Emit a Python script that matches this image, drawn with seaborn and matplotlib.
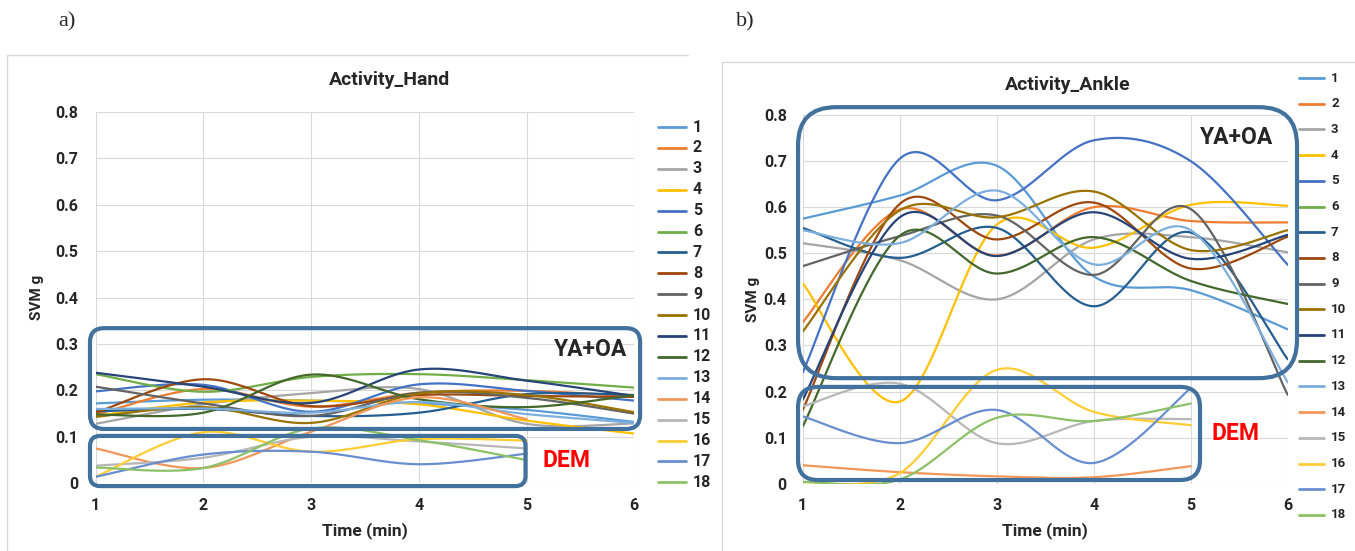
import numpy as np
import pandas as pd
import matplotlib
matplotlib.use("Agg")
import matplotlib.pyplot as plt
import seaborn as sns
from matplotlib.patches import FancyBboxPatch
from matplotlib.lines import Line2D
from matplotlib.transforms import IdentityTransform

# time points (minutes); DEM subjects only have 5 points
time_min = [1, 2, 3, 4, 5, 6]

series_names = [str(i) for i in range(1, 19)]
series_colors = ["#5B9BD5", "#ED7D31", "#A5A5A5", "#FFC000", "#4472C4", "#70AD47",
                 "#255E91", "#9E480E", "#636363", "#997300", "#264478", "#43682B",
                 "#7CAFDD", "#F1975A", "#B7B7B7", "#FFCD33", "#698ED0", "#8CC168"]

# a) Activity_Hand  (1-13 YA+OA, 14-18 DEM)
hand_1 = [0.172, 0.180, 0.178, 0.172, 0.158, 0.132]
hand_2 = [0.148, 0.203, 0.165, 0.195, 0.199, 0.187]
hand_3 = [0.128, 0.170, 0.194, 0.203, 0.128, 0.129]
hand_4 = [0.145, 0.174, 0.178, 0.170, 0.135, 0.107]
hand_5 = [0.198, 0.212, 0.154, 0.213, 0.199, 0.178]
hand_6 = [0.235, 0.197, 0.229, 0.235, 0.222, 0.206]
hand_7 = [0.155, 0.160, 0.145, 0.152, 0.192, 0.190]
hand_8 = [0.152, 0.224, 0.166, 0.190, 0.188, 0.186]
hand_9 = [0.208, 0.172, 0.145, 0.195, 0.184, 0.150]
hand_10 = [0.143, 0.164, 0.130, 0.193, 0.190, 0.153]
hand_11 = [0.238, 0.208, 0.173, 0.245, 0.221, 0.188]
hand_12 = [0.148, 0.152, 0.234, 0.181, 0.164, 0.190]
hand_13 = [0.160, 0.161, 0.152, 0.175, 0.149, 0.130]
hand_14 = [0.075, 0.033, 0.111, 0.185, 0.138]
hand_15 = [0.038, 0.055, 0.100, 0.090, 0.075]
hand_16 = [0.014, 0.110, 0.068, 0.095, 0.092]
hand_17 = [0.014, 0.062, 0.068, 0.041, 0.064]
hand_18 = [0.034, 0.033, 0.118, 0.093, 0.050]

# b) Activity_Ankle  (series 6 has no values)
ankle_1 = [0.575, 0.625, 0.690, 0.450, 0.420, 0.335]
ankle_2 = [0.350, 0.595, 0.495, 0.600, 0.570, 0.567]
ankle_3 = [0.522, 0.485, 0.400, 0.530, 0.535, 0.502]
ankle_4 = [0.435, 0.178, 0.562, 0.512, 0.605, 0.603]
ankle_5 = [0.241, 0.705, 0.615, 0.745, 0.700, 0.475]
ankle_6 = None
ankle_7 = [0.555, 0.490, 0.555, 0.385, 0.545, 0.270]
ankle_8 = [0.160, 0.607, 0.530, 0.610, 0.467, 0.536]
ankle_9 = [0.472, 0.537, 0.582, 0.453, 0.596, 0.193]
ankle_10 = [0.330, 0.593, 0.578, 0.634, 0.507, 0.550]
ankle_11 = [0.182, 0.578, 0.494, 0.589, 0.488, 0.540]
ankle_12 = [0.124, 0.538, 0.456, 0.535, 0.440, 0.390]
ankle_13 = [0.550, 0.522, 0.636, 0.476, 0.550, 0.220]
ankle_14 = [0.040, 0.025, 0.016, 0.014, 0.038]
ankle_15 = [0.168, 0.217, 0.088, 0.136, 0.140]
ankle_16 = [0.003, 0.023, 0.247, 0.156, 0.127]
ankle_17 = [0.146, 0.088, 0.160, 0.045, 0.207]
ankle_18 = [0.004, 0.009, 0.143, 0.136, 0.174]

hand = [hand_1, hand_2, hand_3, hand_4, hand_5, hand_6, hand_7, hand_8, hand_9,
        hand_10, hand_11, hand_12, hand_13, hand_14, hand_15, hand_16, hand_17, hand_18]
ankle = [ankle_1, ankle_2, ankle_3, ankle_4, ankle_5, ankle_6, ankle_7, ankle_8, ankle_9,
         ankle_10, ankle_11, ankle_12, ankle_13, ankle_14, ankle_15, ankle_16, ankle_17, ankle_18]

W, H = 1355, 551
BOX = "#41719C"
GRID = "#D9D9D9"

sns.set_style("white")
plt.rcParams["font.family"] = ["Roboto", "DejaVu Sans"]


def excel_smooth(xs, ys, n=40):
    # bezier smoothing like excel's "smoothed line" option
    pts = np.column_stack([xs, ys]).astype(float)
    out = []
    for i in range(len(pts) - 1):
        p0 = pts[i - 1] if i > 0 else pts[i]
        p1, p2 = pts[i], pts[i + 1]
        p3 = pts[i + 2] if i + 2 < len(pts) else pts[i + 1]
        c1 = p1 + (p2 - p0) / 6
        c2 = p2 - (p3 - p1) / 6
        t = np.linspace(0, 1, n)[:, None]
        seg = (1 - t) ** 3 * p1 + 3 * (1 - t) ** 2 * t * c1 + 3 * (1 - t) * t ** 2 * c2 + t ** 3 * p2
        out.append(seg if i == 0 else seg[1:])
    out = np.vstack(out)
    return out[:, 0], out[:, 1]


def px(x, y):
    return x / W, 1 - y / H


def rounded_box(ax, x0, y0, x1, y1, r):
    (a, b), (c, d) = ax.transData.transform([(x0, y0), (x1, y1)])
    box = FancyBboxPatch((a, b), c - a, d - b, boxstyle=f"round,pad=0,rounding_size={r}",
                         transform=IdentityTransform(), fill=False, ec=BOX, lw=3.0, zorder=5)
    fig.add_artist(box)


def draw_panel(ax, values, title, title_y):
    rows = []
    for name, vals in zip(series_names, values):
        if vals is None:
            continue
        sx, sy = excel_smooth(time_min[:len(vals)], vals)
        rows.append(pd.DataFrame({"time": sx, "svm": sy, "series": name}))
    df = pd.concat(rows, ignore_index=True)
    order = [n for n, v in zip(series_names, values) if v is not None]
    sns.lineplot(data=df, x="time", y="svm", hue="series", hue_order=order,
                 palette=dict(zip(series_names, series_colors)), estimator=None,
                 sort=False, legend=False, linewidth=1.6, ax=ax)
    ax.set_xlim(1, 6)
    ax.set_ylim(0, 0.8)
    ax.set_xticks(time_min)
    ax.set_yticks(np.arange(0, 0.81, 0.1))
    ax.set_yticklabels(["0"] + [f"{v:.1f}" for v in np.arange(0.1, 0.81, 0.1)])
    ax.grid(True, color=GRID, lw=0.8)
    ax.set_axisbelow(True)
    for s in ax.spines.values():
        s.set_visible(False)
    ax.tick_params(length=0, labelsize=11.5)
    for lab in ax.get_xticklabels() + ax.get_yticklabels():
        lab.set_fontweight("bold")
    ax.text(0.546, title_y, title, transform=ax.transAxes, fontsize=14, fontweight="bold",
            ha="center", va="center")
    ax.set_xlabel("Time (min)", fontsize=12.5, fontweight="bold")
    ax.set_ylabel("SVM g", fontsize=11, fontweight="bold")


def draw_legend(x_a, x_b, x_t, y_first, dy, size):
    for i, (name, col) in enumerate(zip(series_names, series_colors)):
        y = y_first + i * dy
        fig.add_artist(Line2D([x_a / W, x_b / W], [1 - y / H] * 2, color=col, lw=2))
        fig.text(x_t / W, 1 - y / H, name, fontsize=size, fontweight="bold", va="center")


fig = plt.figure(figsize=(W / 100, H / 100), dpi=100)
fig.patch.set_facecolor("white")

# chart frames
fig.add_artist(Line2D([7 / W, 7 / W, 688 / W], [0, 1 - 55 / H, 1 - 55 / H], color=GRID, lw=1))
fig.add_artist(Line2D([722 / W, 722 / W, 1], [0, 1 - 62 / H, 1 - 62 / H], color=GRID, lw=1))

ax_a = fig.add_axes([95.7 / W, 1 - 483.3 / H, 538.6 / W, 371.6 / H])
ax_b = fig.add_axes([802.7 / W, 1 - 483.7 / H, 485 / W, 368.7 / H])

draw_panel(ax_a, hand, "Activity_Hand", 1.085)
draw_panel(ax_b, ankle, "Activity_Ankle", 1.081)
ax_a.xaxis.set_label_coords(0.5, -0.104)
ax_a.yaxis.set_label_coords(-0.096, 0.5)
ax_b.xaxis.set_label_coords(0.5, -0.104)
ax_b.yaxis.set_label_coords(-0.088, 0.5)
ax_a.tick_params(axis="x", pad=10.5)
ax_a.tick_params(axis="y", pad=12.5)
ax_b.tick_params(axis="x", pad=10.5)
ax_b.tick_params(axis="y", pad=11.5)

# group boxes and labels
rounded_box(ax_a, 0.947, 0.117, 6.054, 0.334, 14)
rounded_box(ax_a, 0.947, -0.006, 4.99, 0.102, 10)
rounded_box(ax_b, 0.952, 0.229, 6.096, 0.817, 38)
rounded_box(ax_b, 0.952, 0.008, 5.096, 0.210, 20)
ax_a.text(5.59, 0.289, "YA+OA", fontsize=16.5, fontweight="bold", ha="center", va="center", zorder=6)
ax_a.text(5.375, 0.050, "DEM", fontsize=16.5, fontweight="bold", color="red", ha="center", va="center")
ax_b.text(5.47, 0.752, "YA+OA", fontsize=16.5, fontweight="bold", ha="center", va="center", zorder=6)
ax_b.text(5.46, 0.110, "DEM", fontsize=16.5, fontweight="bold", color="red", ha="center", va="center")

draw_legend(658, 686, 693, 127, 20.9, 11.5)
draw_legend(1299, 1324, 1331, 78, 25.7, 9.5)

fig.text(*px(67, 22), "a)", fontsize=16, family="Liberation Serif", ha="center", va="center")
fig.text(*px(745, 22), "b)", fontsize=16, family="Liberation Serif", ha="center", va="center")

plt.savefig("out.png", dpi=100)
